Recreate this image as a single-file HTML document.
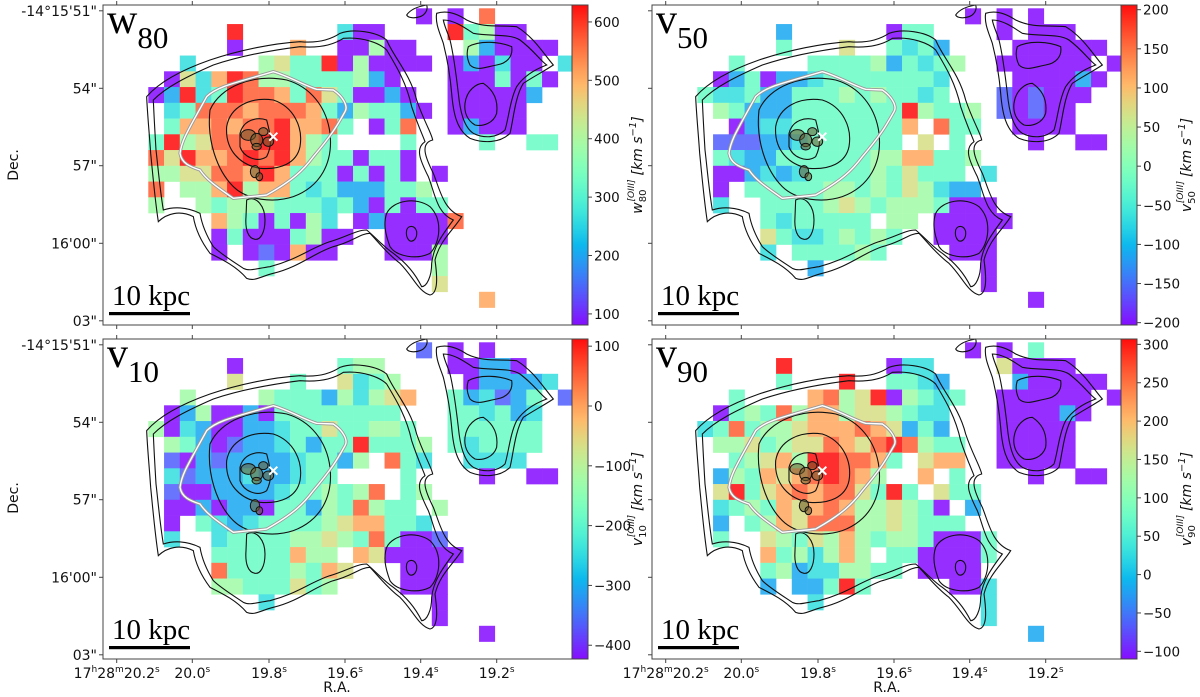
<!DOCTYPE html>
<html><head><meta charset="utf-8"><style>
html,body{margin:0;padding:0;background:#fff;}
svg{display:block;}
</style></head><body>
<svg id="fig" xmlns="http://www.w3.org/2000/svg" width="1200" height="697" viewBox="0 0 1200 697">
<defs id="defs"></defs>
</svg>
<script>
// ---------- data ----------
const p1Rows = [
".................0.0.8.....",
".....9......300....94500...",
".....0...7..00500...520000.",
"..3....56449050000.020300.3",
".063798554444520...0004040.",
"02934988748640020..000002..",
".34888788874254420.00000...",
".477878897784.048..02000...",
"495688899754....4....4..44.",
"86977898975440440..........",
"55668879744404040.0........",
"8.5579577434222445.........",
"5..5455544434204044........",
"....75404053.0200008.......",
"....040004500..0000........",
"....0.010700...0005........",
".......4..........5........",
"..................6........",
".....................7....."];
const p2Rows = [
".................0.0.0.....",
".....2......044....0.000...",
".....4...6..4342....000000.",
"..4....4444524345..000000.0",
".024022344444443....000020.",
"4334224445454434...101000..",
".54222444444495445.10100...",
"..023344444447.844..0000...",
".111223444444.6.4....0..00.",
".43224444445577445.........",
".0023234444546444.3........",
".0.444445545465322.........",
".3..444456545554000........",
"....4344444.55.00000.......",
"....643345454..0000........",
"....3.444454....000........",
".......2..........0........",
"..................0........",
".....................0....."];
const p3Rows = [
".................1.0.0.....",
".....0......455....00220...",
".....6...4..6345....022223.",
"..5....5444253567..423124.1",
".025002044444444...443423..",
"50320022344644554..444444..",
".54201223424494445.434444..",
".1021222234425.843..3333...",
".31222322344....4....0..00.",
".10022223445458.45.........",
".0020220442548544.5........",
".0.432344445677443.........",
".3..344445565484001........",
"....44444755.7600000.......",
"....844445476...000........",
"....55444645....000........",
".......3..........0........",
"..................0........",
".....................0....."];
const p4Rows = [
".................0.0.4.....",
".....9......033....60000...",
".....4...9..4432....200000.",
"..4....7856905434..000000.0",
".045485775665433...000020..",
"3484556777876242...00000...",
".5564566876898544..00000...",
"..45675998874.677..00000...",
".25476789875..7.4....0..00.",
".6946787886494.644.........",
".345476787556540.2.........",
".2.45768885565444..........",
".4..654657545540004........",
"....7453575.4400004........",
"....452335544.0000.........",
"....2.22494.....003........",
".......3..........3........",
"..................3........",
".....................2....."];
const p1Range = [81, 629];
const p2Range = [-203, 206];
const p3Range = [-423, 112];
const p4Range = [-110, 307];
const p1Ticks = [100, 200, 300, 400, 500, 600];
const p2Ticks = [-200, -150, -100, -50, 0, 50, 100, 150, 200];
const p3Ticks = [-400, -300, -200, -100, 0, 100];
const p4Ticks = [-100, -50, 0, 50, 100, 150, 200, 250, 300];
const raTickLabels = [["17","h","28","m","20.2","s"],["20.0","s"],["19.8","s"],["19.6","s"],["19.4","s"],["19.2","s"]];
const decTickLabels = ["-14°15'51\"", "54\"", "57\"", "16'00\"", "03\""];

// ---------- helpers ----------
const NS = "http://www.w3.org/2000/svg";
const svg = document.getElementById('fig');
function mk(tag, attrs, parent){
  const e = document.createElementNS(NS, tag);
  for (const k in attrs) e.setAttribute(k, attrs[k]);
  (parent||svg).appendChild(e);
  return e;
}
function rainbow(x){
  x = Math.max(0, Math.min(1, x));
  const r = Math.min(1, Math.abs(2*x-0.5));
  const g = Math.max(0, Math.sin(Math.PI*x));
  const b = Math.max(0, Math.cos(Math.PI*x/2));
  return [r*255, g*255, b*255];
}
function rgb(c, a){
  const f = v => Math.round(v*a + 255*(1-a));
  return `rgb(${f(c[0])},${f(c[1])},${f(c[2])})`;
}
const FW = 469, FH = 320, CW = 15.75;
const panels = [
  {name:'w80', fx:103, fy:5, rows:p1Rows, range:p1Range, ticks:p1Ticks, t:'w', s:'80', left:true, bottom:false},
  {name:'v50', fx:652, fy:5, rows:p2Rows, range:p2Range, ticks:p2Ticks, t:'v', s:'50', left:false, bottom:false},
  {name:'v10', fx:103, fy:339, rows:p3Rows, range:p3Range, ticks:p3Ticks, t:'v', s:'10', left:true, bottom:true},
  {name:'v90', fx:652, fy:339, rows:p4Rows, range:p4Range, ticks:p4Ticks, t:'v', s:'90', left:false, bottom:true}
];
const defs = document.getElementById('defs');
const lg = mk('linearGradient', {id:'rb', x1:'0', y1:'1', x2:'0', y2:'0'}, defs);
for (let i=0;i<=20;i++){ const c = rainbow(i/20); mk('stop', {offset:(i/20), 'stop-color':rgb(c,0.95)}, lg); }

const outer = "M140,290 C170,255 230,215 330,180 C420,150 520,130 600,125 C650,130 690,120 720,100 C760,85 830,95 860,120 C880,170 930,220 950,300 C970,360 995,400 998,420 C960,430 975,470 1000,520 C1020,570 1030,630 1085,650 C1060,690 1020,720 1005,780 C1012,830 1015,880 990,885 C955,875 940,830 900,790 C860,760 830,720 810,700 C780,700 760,725 700,740 C640,760 600,800 520,820 C480,830 465,845 440,835 C410,800 370,780 330,760 C300,720 285,680 280,650 C240,630 200,640 175,665 C165,600 160,540 152,460 C148,400 142,340 140,290 Z";
const outer2 = "M160,300 C200,260 260,230 340,195 C430,165 520,150 600,140 C660,145 700,135 730,115 C790,110 840,130 860,150 C890,200 920,250 935,320 C955,380 970,410 975,425 C945,445 960,480 985,530 C1005,580 1010,640 1060,660 C1030,700 1000,740 995,790 C995,830 980,860 965,860 C945,820 920,790 880,760 C850,740 825,710 800,690 C770,690 740,710 690,725 C630,745 590,780 510,800 C470,805 450,815 430,805 C400,785 360,760 340,740 C315,700 305,670 300,640 C260,620 220,620 190,630 C180,570 175,510 168,450 C165,400 162,350 160,300 Z";
const inner1 = "M330,330 C360,260 460,220 560,240 C630,260 680,320 690,400 C700,490 660,560 580,590 C520,610 440,600 400,560 C350,510 320,420 330,330 Z";
const inner2 = "M380,380 C390,320 450,290 520,300 C580,320 610,380 600,440 C590,490 540,510 480,505 C420,495 375,450 380,380 Z";
const inner3 = "M420,400 C430,360 470,350 500,360 C510,400 520,430 500,470 C470,490 430,470 420,440 Z";
const lowMid = "M440,600 C470,585 495,620 495,660 C495,700 480,720 465,718 C445,715 435,690 438,650 Z";
const lowRight = "M860,640 C880,600 950,590 990,620 C1030,660 1020,730 990,760 C950,780 890,770 870,740 C855,700 850,670 860,640 Z";
const lowRight2 = "M920,690 C925,675 945,675 950,695 C952,715 940,728 928,722 C918,712 918,700 920,690 Z";
const rightBlob = "M1010,40 C1040,30 1070,40 1100,60 C1150,85 1200,75 1250,80 C1300,110 1330,160 1360,195 C1330,215 1300,230 1270,250 C1245,290 1240,360 1230,400 C1200,430 1150,430 1110,415 C1070,390 1060,340 1055,280 C1050,220 1040,170 1030,130 C1020,100 1005,70 1010,40 Z";
const rightBlob2 = "M1030,60 C1060,60 1090,80 1120,100 C1170,110 1230,100 1260,120 C1300,150 1320,180 1340,195 C1300,210 1270,230 1250,260 C1230,300 1225,360 1215,390 C1190,415 1150,415 1120,400 C1090,380 1080,330 1075,280 C1068,220 1060,160 1050,120 C1042,95 1032,75 1030,60 Z";
const rightInner = "M1095,310 C1100,270 1130,250 1150,250 C1180,270 1195,300 1190,340 C1180,370 1150,380 1125,375 C1100,360 1092,335 1095,310 Z";
const rightTop = "M1105,140 C1140,120 1200,125 1235,140 C1240,170 1220,190 1190,195 C1160,200 1130,215 1110,195 C1100,175 1100,155 1105,140 Z";
const whiteRegion = "M240,460 C245,420 265,390 320,290 C350,260 400,250 520,215 C570,230 610,255 650,268 L700,270 C730,290 745,320 735,335 C715,370 700,400 640,470 C610,510 580,540 500,585 C460,590 440,590 400,595 C350,560 320,540 300,510 C270,500 245,490 240,460 Z";
const topLeftBlob = "M920,45 C930,30 950,20 980,15 C985,30 975,45 960,50 C945,55 925,55 920,45 Z";

panels.forEach((P, pi) => {
  const g = mk('g', {});
  
  
  const [vmin, vmax] = P.range;
  const cells = mk('g', {}, g);
  
  
  P.rows.forEach((row, r) => {
    for (let c = 0; c < row.length; c++){
      const ch = row[c];
      if (ch === '.') continue;
      const d = +ch;
      const val = vmin + d/9*(vmax - vmin);
      const x = P.fx + 45.3 + c*CW, y = P.fy + 3.3 + r*CW;
      const rect = mk('rect', {x:x.toFixed(2), y:y.toFixed(2), width:CW+0.3, height:CW+0.3,
        fill: rgb(rainbow((val-vmin)/(vmax-vmin)), 0.82)}, cells);
      
      
    }
  });
  const cg = mk('g', {transform:`translate(${P.fx-3},${P.fy-5}) scale(0.33333)`, fill:'none', stroke:'#111', 'stroke-width':1.1}, g);
  
  
  [outer, outer2, inner1, inner2, inner3, lowMid, lowRight, lowRight2, rightBlob, rightBlob2, rightInner, rightTop, topLeftBlob].forEach(d => {
    const p = mk('path', {d:d, 'vector-effect':'non-scaling-stroke'}, cg);
    
    
  });
  const wr1 = mk('path', {d:whiteRegion, stroke:'#999', 'stroke-width':3.2, 'vector-effect':'non-scaling-stroke'}, cg);
  
  
  const wr2 = mk('path', {d:whiteRegion, stroke:'#fff', 'stroke-width':1.4, 'vector-effect':'non-scaling-stroke'}, cg);
  
  
  const core = mk('g', {fill:'#6a5a2a', 'fill-opacity':0.55, stroke:'#111', 'stroke-width':1}, cg);
  
  
  [[445,405,22,16],[470,420,18,20],[490,395,14,12],[505,425,16,14],[470,440,14,10],[465,515,14,18],[478,530,10,12]].forEach(e=>{
    const el = mk('ellipse', {cx:e[0], cy:e[1], rx:e[2], ry:e[3], 'vector-effect':'non-scaling-stroke'}, core);
    
    
  });
  const xm = mk('path', {d:'M508,398 L532,422 M532,398 L508,422', stroke:'#fff', 'stroke-width':2, 'vector-effect':'non-scaling-stroke'}, cg);
  
  
  const fr = mk('rect', {x:P.fx, y:P.fy, width:FW, height:FH, fill:'none', stroke:'#444', 'stroke-width':1}, g);
  
  
  const xt = [13.7, 89.3, 166, 242, 317.7, 393.7];
  xt.forEach((dx, i) => {
    const t1 = mk('line', {x1:P.fx+dx, x2:P.fx+dx, y1:P.fy+FH, y2:P.fy+FH+4, stroke:'#444'}, g);
    
    
    const t2 = mk('line', {x1:P.fx+dx, x2:P.fx+dx, y1:P.fy, y2:P.fy-4, stroke:'#444'}, g);
    
    
    if (P.bottom){
      const lab = raTickLabels[i];
      const tx = mk('text', {x:P.fx+dx, y:P.fy+FH+19, 'text-anchor':'middle', 'font-family':'DejaVu Sans, Liberation Sans, sans-serif', 'font-size':14, fill:'#111'}, g);
      
      
      for (let k=0;k<lab.length;k++){
        const ts = mk('tspan', {}, tx);
        if (k%2===1){ ts.setAttribute('font-size', 9); ts.setAttribute('dy', -6); }
        else if (k>0){ ts.setAttribute('dy', 6); }
        ts.textContent = lab[k];
      }
    }
  });
  const yt = [5.8, 83.3, 160.7, 238.3, 315.8];
  yt.forEach((dy, i) => {
    const t1 = mk('line', {x1:P.fx, x2:P.fx-4, y1:P.fy+dy, y2:P.fy+dy, stroke:'#444'}, g);
    
    
    if (P.left){
      const tx = mk('text', {x:P.fx-6, y:P.fy+dy+5, 'text-anchor':'end', 'font-family':'DejaVu Sans, Liberation Sans, sans-serif', 'font-size':14, fill:'#111'}, g);
      
      
      tx.textContent = decTickLabels[i];
    }
  });
  const tt = mk('text', {x:P.fx+4, y:P.fy+28, 'font-family':'Liberation Serif, serif', 'font-size':42, fill:'#000'}, g);
  
  
  const ts1 = mk('tspan', {}, tt); ts1.textContent = P.t;
  const ts2 = mk('tspan', {dy:15, 'font-size':31}, tt); ts2.textContent = P.s;
  const sb = mk('text', {x:P.fx+9, y:P.fy+300, 'font-family':'Liberation Serif, serif', 'font-size':29, fill:'#000'}, g);
  
  
  sb.textContent = '10 kpc';
  const sbl = mk('rect', {x:P.fx+6, y:P.fy+307, width:81, height:3.2, fill:'#000'}, g);
  
  
  const cbx = P.fx+FW, cby = P.fy;
  const cb = mk('rect', {x:cbx, y:cby, width:16, height:FH, fill:'url(#rb)', stroke:'#444', 'stroke-width':1}, g);
  
  
  P.ticks.forEach(v => {
    const y = cby + FH - (v - vmin)/(vmax - vmin)*FH;
    const tl = mk('line', {x1:cbx+16, x2:cbx+20, y1:y, y2:y, stroke:'#444'}, g);
    
    
    const tx = mk('text', {x:cbx+22, y:y+5, 'font-family':'DejaVu Sans, Liberation Sans, sans-serif', 'font-size':13.5, fill:'#111'}, g);
    
    
    tx.textContent = (v<0 ? '\u2212' + (-v) : '' + v);
  });
  const cl = mk('text', {transform:`translate(${cbx+70},${cby+FH/2}) rotate(-90)`, 'text-anchor':'middle', 'font-family':'DejaVu Sans, Liberation Sans, sans-serif', 'font-size':14, 'font-style':'italic', fill:'#111'}, g);
  
  
  const c1 = mk('tspan', {}, cl); c1.textContent = P.t;
  const c3 = mk('tspan', {dy:4, 'font-size':10, 'font-style':'normal'}, cl); c3.textContent = P.s;
  const c2 = mk('tspan', {dx:-12, dy:-12, 'font-size':9}, cl); c2.textContent = '[OIII]';
  const c4 = mk('tspan', {dx:4, dy:8}, cl); c4.textContent = '[km s';
  const c5 = mk('tspan', {dy:-6, 'font-size':10}, cl); c5.textContent = '\u22121';
  const c6 = mk('tspan', {dy:6}, cl); c6.textContent = ']';
});
[165, 498].forEach(yc => {
  const t = mk('text', {transform:`translate(18,${yc}) rotate(-90)`, 'text-anchor':'middle', 'font-family':'DejaVu Sans, Liberation Sans, sans-serif', 'font-size':14, fill:'#111'});
  
  
  t.textContent = 'Dec.';
});
[337, 887].forEach(x => {
  const t = mk('text', {x:x, y:692, 'text-anchor':'middle', 'font-family':'DejaVu Sans, Liberation Sans, sans-serif', 'font-size':14, fill:'#111'});
  
  
  t.textContent = 'R.A.';
});
</script>
</body></html>
